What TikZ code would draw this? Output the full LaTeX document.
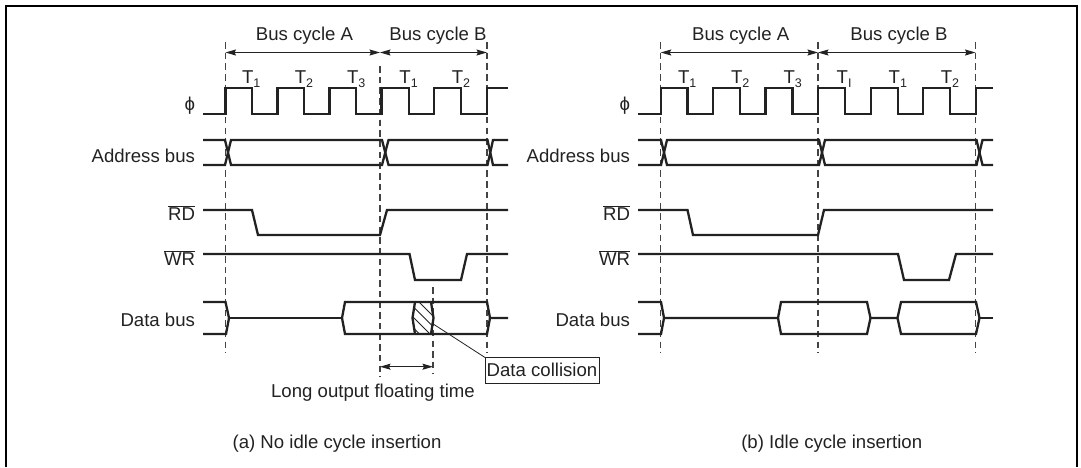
\documentclass[tikz,border=0pt]{standalone}
\usepackage{fontspec}
\setmainfont{Liberation Sans}
\usetikzlibrary{arrows.meta}
\definecolor{ink}{HTML}{222222}
\tikzset{
  wave/.style={draw=ink,line width=2.3pt,line join=miter},
  guide/.style={draw=ink!85,line width=1.3pt,dash pattern=on 6.5pt off 4.2pt},
  span/.style={draw=ink,line width=1pt,{Stealth[length=10.5pt,width=6pt,inset=1.5pt]}-{Stealth[length=10.5pt,width=6pt,inset=1.5pt]}},
  lab/.style={inner sep=0pt,outer sep=0pt,text=ink,font=\fontsize{18.6}{20}\selectfont},
  sig/.style={lab,anchor=base east},
  mid/.style={lab,anchor=base},
  tick/.style={lab,anchor=base west},
  frameline/.style={draw=black,line width=2pt},
  thin/.style={draw=ink,line width=0.8pt},
  callout/.style={lab,draw=ink,line width=0.8pt,anchor=base west,minimum height=25.5pt,text depth=7pt,text height=18.5pt,inner xsep=1.7pt}
}
\newcommand{\tsub}[1]{T\raisebox{-4pt}{\fontsize{12.5}{13}\selectfont #1}}
\begin{document}
\begin{tikzpicture}[x=1pt,y=-1pt]
\useasboundingbox (0,0) rectangle (1081,467);
% frame (open at the bottom)
\draw[frameline] (6,467) -- (6,6) -- (1077,6) -- (1077,467);

% ---------- panel (a) ----------
\coordinate (a0t) at (225.5,42);  \coordinate (a0b) at (225.5,353);
\coordinate (a1t) at (380,66);    \coordinate (a1b) at (380,377);
\coordinate (a2t) at (487,42);    \coordinate (a2b) at (487,353);
\coordinate (a3t) at (433,287);   \coordinate (a3b) at (433,373);
\draw[guide] (a0t) -- (a0b);
\draw[guide] (a1t) -- (a1b);
\draw[guide] (a2t) -- (a2b);
\draw[guide] (a3t) -- (a3b);
\coordinate (a0) at (225.5,52.5); \coordinate (a1) at (380,52.5); \coordinate (a2) at (487,52.5);
\draw[span] (a0) -- (a1);
\draw[span] (a1) -- (a2);
\coordinate (f0) at (380,366.7); \coordinate (f1) at (433,366.7);
\draw[span] (f0) -- (f1);
\node[mid] (acA) at (304.5,40) {Bus cycle A};
\node[mid] (acB) at (438,40) {Bus cycle B};
\node[tick] (at1) at (242,83.3) {\tsub{1}};
\node[tick] (at2) at (294.8,83.3) {\tsub{2}};
\node[tick] (at3) at (347,83.3) {\tsub{3}};
\node[tick] (at4) at (399.4,83.3) {\tsub{1}};
\node[tick] (at5) at (451.8,83.3) {\tsub{2}};
\node[sig] (aphi) at (195,110) {\char"03D5};
\node[sig] (aadr) at (195,162) {Address bus};
\node[sig] (ard) at (195,220.7) {$\overline{\hbox{RD}}$};
\node[sig] (awr) at (195,265) {$\overline{\hbox{WR}}$};
\node[sig] (adat) at (195,326) {Data bus};
% phi
\draw[wave] (203,114) -- (225.5,114) |- (252,88) |- (277.5,114) |- (304,88) |- (329.5,114) |- (356,88) |- (381.5,114) |- (409,88) |- (434,114) |- (461,88) |- (487,114) |- (508,88);
% address
\draw[wave] (203,140) -- (225,140) -- (231,165) -- (382,165) -- (388.5,140) -- (487.5,140) -- (493,165) -- (508,165);
\draw[wave] (203,165) -- (225,165) -- (231,140) -- (382,140) -- (388.5,165) -- (487.5,165) -- (493,140) -- (508,140);
% RD
\draw[wave] (203,210) -- (252,210) -- (258,235) -- (380,235) -- (387,210) -- (508,210);
% WR
\draw[wave] (203,254) -- (409.5,254) -- (415,280) -- (461,280) -- (467,254) -- (508,254);
% data
\draw[wave] (203,302) -- (225.5,302) -- (229,318) -- (226,334) -- (203,334);
\draw[wave] (229,318) -- (342,318);
\draw[wave] (508,318) -- (490,318) -- (487,302) -- (345,302) -- (342,318) -- (345,334) -- (487,334) -- (490,318);
% collision
\begin{scope}
\clip (415,302) -- (412.5,318) -- (415,334) -- (431,334) -- (433.5,318) -- (431,302) -- cycle;
\foreach \c in {-117,-106.5,-96,-85.5}
  \draw[thin] (400,400+\c) -- (450,450+\c);
\end{scope}
\draw[wave] (415,302) -- (412.5,318) -- (415,334);
\draw[wave] (431,302) -- (433.5,318) -- (431,334);
\node[callout] (dc) at (485,376) {Data collision};
\coordinate (dcfrom) at (431.7,323);
\draw[thin] (dcfrom) -- (dc.north west);
\node[mid] (flt) at (373,397.7) {Long output floating time};
\node[mid] (capa) at (337,448) {(a) No idle cycle insertion};

% ---------- panel (b) ----------
\coordinate (b0t) at (660.7,42);  \coordinate (b0b) at (660.7,353);
\coordinate (b1t) at (818,42);    \coordinate (b1b) at (818,353);
\coordinate (b2t) at (975.5,42);  \coordinate (b2b) at (975.5,353);
\draw[guide] (b0t) -- (b0b);
\draw[guide] (b1t) -- (b1b);
\draw[guide] (b2t) -- (b2b);
\coordinate (b0) at (660.7,52.5); \coordinate (b1) at (818,52.5); \coordinate (b2) at (975.5,52.5);
\draw[span] (b0) -- (b1);
\draw[span] (b1) -- (b2);
\node[mid] (bcA) at (740.7,40) {Bus cycle A};
\node[mid] (bcB) at (899,40) {Bus cycle B};
\node[tick] (bt1) at (678,83.3) {\tsub{1}};
\node[tick] (bt2) at (731,83.3) {\tsub{2}};
\node[tick] (bt3) at (783.6,83.3) {\tsub{3}};
\node[tick] (bt4) at (836.7,83.3) {\tsub{I}};
\node[tick] (bt5) at (888.7,83.3) {\tsub{1}};
\node[tick] (bt6) at (940.8,83.3) {\tsub{2}};
\node[sig] (bphi) at (630,110) {\char"03D5};
\node[sig] (badr) at (630,162) {Address bus};
\node[sig] (brd) at (630,220.7) {$\overline{\hbox{RD}}$};
\node[sig] (bwr) at (630,265) {$\overline{\hbox{WR}}$};
\node[sig] (bdat) at (630,326) {Data bus};
\draw[wave] (638,114) -- (661,114) |- (687.5,88) |- (713,114) |- (740,88) |- (765.5,114) |- (792.5,88) |- (818,114) |- (845,88) |- (871,114) |- (898,88) |- (923,114) |- (950,88) |- (976,114) |- (993,88);
\draw[wave] (638,140) -- (661,140) -- (667,165) -- (819,165) -- (825,140) -- (976.5,140) -- (982.5,165) -- (993,165);
\draw[wave] (638,165) -- (661,165) -- (667,140) -- (819,140) -- (825,165) -- (976.5,165) -- (982.5,140) -- (993,140);
\draw[wave] (638,210) -- (687.5,210) -- (693,235) -- (818,235) -- (824,210) -- (993,210);
\draw[wave] (638,254) -- (898,254) -- (904,280) -- (949,280) -- (956,254) -- (993,254);
\draw[wave] (638,302) -- (661,302) -- (664,318) -- (661,334) -- (638,334);
\draw[wave] (664,318) -- (778,318) -- (781,302) -- (867,302) -- (870.5,318) -- (867,334) -- (781,334) -- (778,318);
\draw[wave] (870.5,318) -- (897.5,318) -- (901,302) -- (976,302) -- (979.5,318) -- (976,334) -- (901,334) -- (897.5,318);
\draw[wave] (979.5,318) -- (993,318);
\node[mid] (capb) at (831.7,448) {(b) Idle cycle insertion};
\end{tikzpicture}
\end{document}
